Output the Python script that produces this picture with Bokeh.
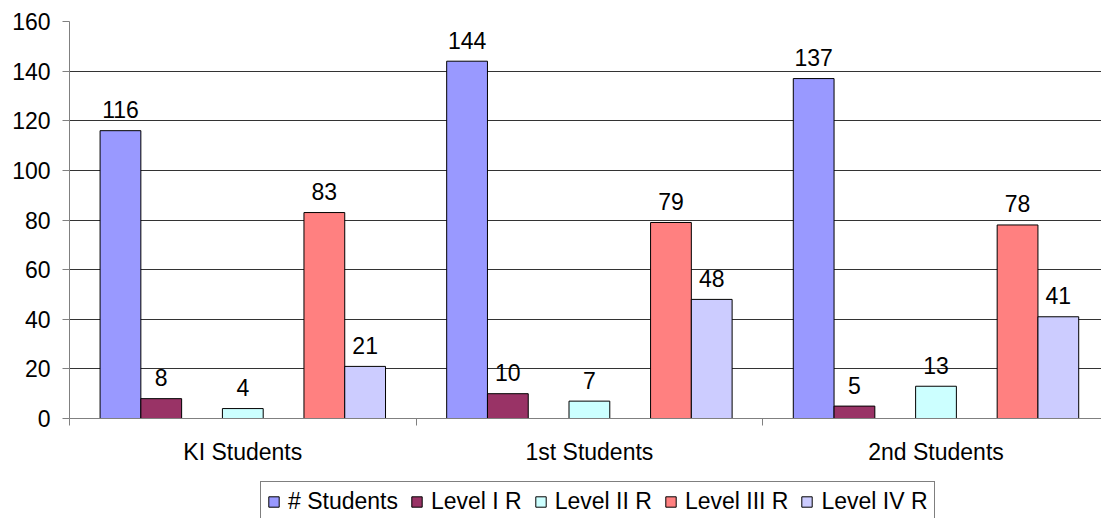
from bokeh.plotting import figure
from bokeh.layouts import column
from bokeh.models import (Range1d, FixedTicker, LinearAxis, Grid, Legend,
                          LegendItem, ColumnDataSource)
from bokeh.core.properties import value
from bokeh.embed import file_html
from bokeh.resources import INLINE

# --- data ---------------------------------------------------------------
groups = ["KI Students", "1st Students", "2nd Students"]
series_names = ["# Students", "Level I R", "Level II R", "Level III R", "Level IV R"]
students = [116, 144, 137]
level_1 = [8, 10, 5]
level_2 = [4, 7, 13]
level_3 = [83, 79, 78]
level_4 = [21, 48, 41]
y_ticks = [0, 20, 40, 60, 80, 100, 120, 140, 160]

series_values = [students, level_1, level_2, level_3, level_4]
colors = ["#9999FF", "#993366", "#CCFFFF", "#FF8080", "#CCCCFF"]

# each group holds 7 equal slots; slots 2 and 4 stay empty
slots = [0, 1, 3, 5, 6]
n_slots = 7
bar_w = 1 / 8.5
edge = (1 - n_slots * bar_w) / 2

FONT_NAME = "Liberation Sans"
FONT = value(FONT_NAME)
GREY = "#808080"
FS = "23px"

p = figure(width=1101, height=480, output_backend="svg", toolbar_location=None,
           x_range=Range1d(0, 1032 / 346.6), y_range=Range1d(0, 160),
           x_axis_location=None, y_axis_location=None,
           min_border_left=69, min_border_right=0, min_border_top=21,
           min_border_bottom=62, outline_line_color=None)
p.xgrid.visible = False
p.ygrid.visible = False

# horizontal gridlines
p.add_layout(Grid(dimension=1, ticker=FixedTicker(ticks=y_ticks[1:]),
                  grid_line_color="#333333", grid_line_width=1))

for name, vals, slot, col in zip(series_names, series_values, slots, colors):
    xs = [g + edge + (slot + 0.5) * bar_w for g in range(len(groups))]
    src = ColumnDataSource(dict(x=xs, top=vals, label=[str(v) for v in vals]))
    p.vbar(x="x", top="top", bottom=0, width=bar_w, source=src,
           fill_color=col, line_color="black", line_width=1)
    p.text(x="x", y="top", text="label", source=src, text_align="center",
           text_baseline="alphabetic", y_offset=-21, text_font=FONT,
           text_font_size=FS, text_color="black")

# y axis
yaxis = LinearAxis(ticker=FixedTicker(ticks=y_ticks), axis_line_color=GREY,
                   major_tick_line_color=GREY, major_tick_out=7, major_tick_in=0,
                   minor_tick_out=0, minor_tick_in=0, major_label_standoff=12,
                   major_label_text_font=FONT_NAME, major_label_text_font_size=FS,
                   major_label_text_color="black")
p.add_layout(yaxis, "left")

# x axis: ticks between groups, labels at group centres
xaxis = LinearAxis(ticker=FixedTicker(ticks=[0.5, 1.5, 2.5], minor_ticks=[0, 1, 2, 3]),
                   major_label_overrides={0.5: groups[0], 1.5: groups[1], 2.5: groups[2]},
                   axis_line_color=GREY, major_tick_out=0, major_tick_in=0,
                   minor_tick_out=7, minor_tick_in=0, minor_tick_line_color=GREY,
                   major_label_standoff=13, major_label_text_font=FONT_NAME,
                   major_label_text_font_size=FS, major_label_text_color="black")
p.add_layout(xaxis, "below")

# legend strip under the chart (same left border as the chart above)
lg = figure(width=1101, height=38, output_backend="svg", toolbar_location=None,
            x_range=Range1d(0, 1), y_range=Range1d(0, 1),
            x_axis_location=None, y_axis_location=None,
            min_border_left=69, min_border_right=0, min_border_top=0,
            min_border_bottom=0, outline_line_color=None)
lg.xgrid.visible = False
lg.ygrid.visible = False
items = []
for name, col in zip(series_names, colors):
    # swatch renderers sit outside the visible range; only their legend glyph shows
    r = lg.vbar(x=[5], top=[1], width=0.1, fill_color=col, line_color="black",
                line_width=1)
    items.append(LegendItem(label=name, renderers=[r]))

legend = Legend(items=items, orientation="horizontal", location=(191, -4),
                border_line_color="black", border_line_width=1,
                glyph_width=13, glyph_height=13, label_standoff=8, spacing=12,
                padding=6, margin=0, label_text_font=FONT_NAME,
                label_text_font_size=FS, label_text_color="black",
                background_fill_color="white", background_fill_alpha=1)
lg.add_layout(legend)

layout = column(p, lg, spacing=0)
open("out.html", "w").write(file_html(layout, INLINE))
